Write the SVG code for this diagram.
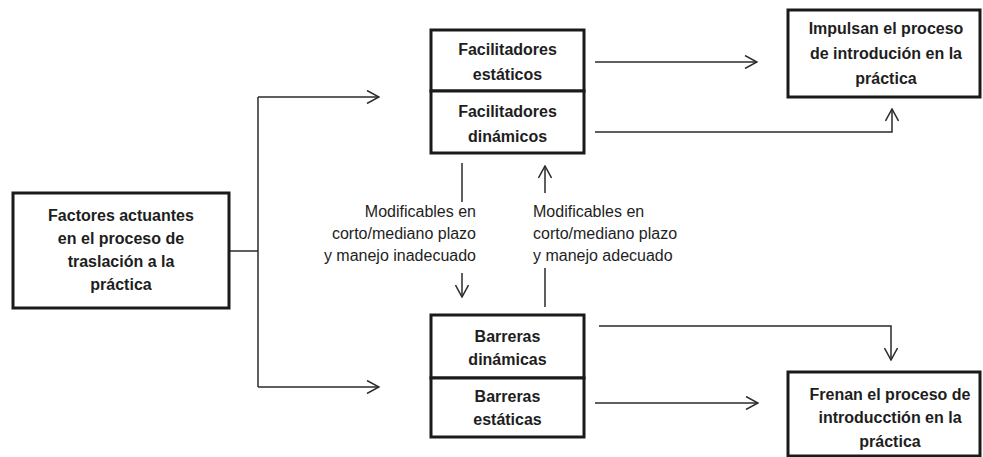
<svg xmlns="http://www.w3.org/2000/svg" width="983" height="457" viewBox="0 0 983 457">
<style>
.box{fill:#fff;stroke:#1a1a1a;stroke-width:3}
.t{font-family:"Liberation Sans",Arial,sans-serif;font-weight:bold;font-size:16px;fill:#1e1e1e;text-anchor:middle}
.lbl{font-family:"Liberation Sans",Arial,sans-serif;font-size:16px;fill:#1e1e1e}
.c{fill:none;stroke:#2a2a2a;stroke-width:1.5}
</style>
<defs>
<marker id="ah" viewBox="0 0 14 14" markerWidth="14" markerHeight="14" refX="13" refY="7" orient="auto" markerUnits="userSpaceOnUse">
<path d="M1,0.5 L13,7 L1,13.5" fill="none" stroke="#2a2a2a" stroke-width="1.5"/>
</marker>
</defs>
<g id="connectors">
<path class="c" d="M229,251 H258"/>
<path class="c" d="M258,97 V387"/>
<path class="c" d="M258,97 H379" marker-end="url(#ah)"/>
<path class="c" d="M258,387 H379" marker-end="url(#ah)"/>
<path class="c" d="M595,62 H757" marker-end="url(#ah)"/>
<path class="c" d="M595,132 H892 V109" marker-end="url(#ah)"/>
<path class="c" d="M599,326 H891 V360" marker-end="url(#ah)"/>
<path class="c" d="M595,403 H758" marker-end="url(#ah)"/>
<path class="c" d="M462,163 V202"/>
<path class="c" d="M462,273 V297" marker-end="url(#ah)"/>
<path class="c" d="M545,193 V166" marker-end="url(#ah)"/>
<path class="c" d="M545,268 V307"/>
</g>
<g id="factores">
<rect class="box" x="13" y="193" width="216" height="115"/>
<text class="t" x="121" y="221">Factores actuantes</text>
<text class="t" x="121" y="244">en el proceso de</text>
<text class="t" x="121" y="267">traslación a la</text>
<text class="t" x="121" y="290">práctica</text>
</g>
<g id="facilitadores-estaticos">
<rect class="box" x="431" y="30" width="153" height="61"/>
<text class="t" x="507.5" y="55">Facilitadores</text>
<text class="t" x="507.5" y="80">estáticos</text>
</g>
<g id="facilitadores-dinamicos">
<rect class="box" x="431" y="91" width="153" height="62"/>
<text class="t" x="507.5" y="117">Facilitadores</text>
<text class="t" x="507.5" y="142">dinámicos</text>
</g>
<g id="impulsan">
<rect class="box" x="788" y="10" width="192" height="87"/>
<text class="t" x="886" y="34">Impulsan el proceso</text>
<text class="t" x="886" y="59">de introdución en la</text>
<text class="t" x="886" y="84">práctica</text>
</g>
<g id="label-inadecuado">
<text class="lbl" text-anchor="end" x="476" y="217">Modificables en</text>
<text class="lbl" text-anchor="end" x="476" y="239">corto/mediano plazo</text>
<text class="lbl" text-anchor="end" x="476" y="261">y manejo inadecuado</text>
</g>
<g id="label-adecuado">
<text class="lbl" x="533" y="217">Modificables en</text>
<text class="lbl" x="533" y="239">corto/mediano plazo</text>
<text class="lbl" x="533" y="261">y manejo adecuado</text>
</g>
<g id="barreras-dinamicas">
<rect class="box" x="431" y="315" width="153" height="63"/>
<text class="t" x="507.5" y="342">Barreras</text>
<text class="t" x="507.5" y="365">dinámicas</text>
</g>
<g id="barreras-estaticas">
<rect class="box" x="431" y="378" width="153" height="59"/>
<text class="t" x="507.5" y="402">Barreras</text>
<text class="t" x="507.5" y="425">estáticas</text>
</g>
<g id="frenan">
<rect class="box" x="788" y="372" width="192" height="84"/>
<text class="t" x="890" y="400">Frenan el proceso de</text>
<text class="t" x="890" y="423">introducctión en la</text>
<text class="t" x="890" y="447">práctica</text>
</g>
</svg>
